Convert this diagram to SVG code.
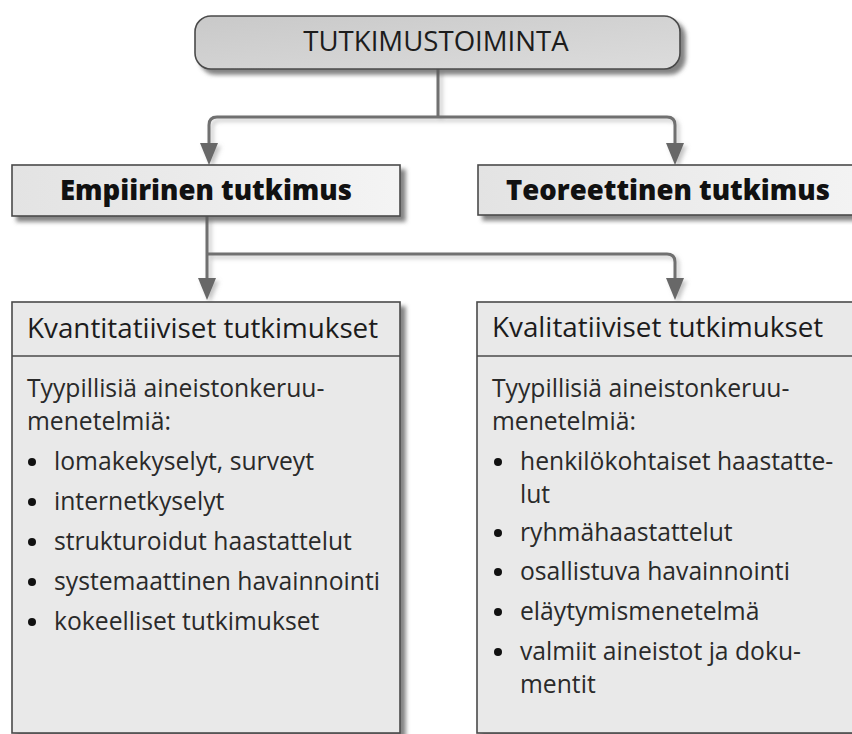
<svg xmlns="http://www.w3.org/2000/svg" width="852" height="734" viewBox="0 0 852 734">
<style>
.box{stroke:#4a4a4a;stroke-width:1.6}
.conn{fill:none;stroke:#6f6f6f;stroke-width:3}
.t{font-family:"Open Sans","Noto Sans",sans-serif;fill:#1c1c1c}
.top{font-size:27.6px;text-anchor:middle}
.mid{font-size:27.5px;font-weight:800;text-anchor:middle;fill:#111}
.hdr{font-size:27.8px}
.body{font-size:24.7px;fill:#2a2a2a}
</style>
<defs>
<filter id="sh" x="-5%" y="-10%" width="115%" height="130%">
<feDropShadow dx="5" dy="5" stdDeviation="2.2" flood-color="#5a5a5a" flood-opacity="0.75"/>
</filter>
<filter id="lsh" x="-50%" y="-50%" width="200%" height="200%">
<feDropShadow dx="3" dy="3" stdDeviation="2" flood-color="#888" flood-opacity="0.5"/>
</filter>
<linearGradient id="gTop" x1="0" y1="0" x2="1" y2="1">
<stop offset="0" stop-color="#c9c9c9"/><stop offset="1" stop-color="#dcdcdc"/>
</linearGradient>
<linearGradient id="gMid" x1="0" y1="0" x2="1" y2="0">
<stop offset="0" stop-color="#e3e3e3"/><stop offset="1" stop-color="#f4f4f4"/>
</linearGradient>
</defs>

<g id="connectors" filter="url(#lsh)">
<path class="conn" d="M438,69 V117"/>
<path class="conn" d="M438,117 H217 Q209,117 209,125 V145"/>
<path d="M200,143 L218,143 L209,165 Z" fill="#686868"/>
<path class="conn" d="M438,117 H667 Q675,117 675,125 V145"/>
<path d="M666,143 L684,143 L675,165 Z" fill="#686868"/>
<path class="conn" d="M207,216 V280"/>
<path d="M198,278 L216,278 L207,300 Z" fill="#686868"/>
<path class="conn" d="M207,254 H667 Q675,254 675,262 V280"/>
<path d="M666,278 L684,278 L675,300 Z" fill="#686868"/>
</g>

<g id="node-tutkimustoiminta">
<rect class="box" x="195" y="16" width="485" height="53" rx="16" fill="url(#gTop)" filter="url(#sh)"/>
<text class="t top" x="436" y="51">TUTKIMUSTOIMINTA</text>
</g>

<g id="node-empiirinen">
<rect class="box" x="12" y="165" width="388" height="51" fill="url(#gMid)" filter="url(#sh)"/>
<text class="t mid" x="206" y="200">Empiirinen tutkimus</text>
</g>

<g id="node-teoreettinen">
<rect class="box" x="478" y="165" width="400" height="50" fill="url(#gMid)" filter="url(#sh)"/>
<text class="t mid" x="668" y="200">Teoreettinen tutkimus</text>
</g>

<g id="node-kvantitatiiviset">
<rect class="box" x="12" y="302" width="388" height="431" fill="#e9e9e9" filter="url(#sh)"/>
<line class="box" x1="12" y1="356" x2="400" y2="356" stroke-width="2"/>
<text class="t hdr" x="27" y="338">Kvantitatiiviset tutkimukset</text>
<text class="t body" x="27" y="397">Tyypillisiä aineistonkeruu-</text>
<text class="t body" x="27" y="430">menetelmiä:</text>
<g class="t body">
<circle cx="32" cy="462" r="4" fill="#111"/><text x="54" y="470">lomakekyselyt, surveyt</text>
<circle cx="32" cy="502" r="4" fill="#111"/><text x="54" y="510">internetkyselyt</text>
<circle cx="32" cy="542" r="4" fill="#111"/><text x="54" y="550">strukturoidut haastattelut</text>
<circle cx="32" cy="582" r="4" fill="#111"/><text x="54" y="590">systemaattinen havainnointi</text>
<circle cx="32" cy="622" r="4" fill="#111"/><text x="54" y="630">kokeelliset tutkimukset</text>
</g>
</g>

<g id="node-kvalitatiiviset">
<rect class="box" x="477" y="302" width="400" height="431" fill="#e9e9e9" filter="url(#sh)"/>
<line class="box" x1="477" y1="356" x2="877" y2="356" stroke-width="2"/>
<text class="t hdr" x="492" y="337">Kvalitatiiviset tutkimukset</text>
<text class="t body" x="492" y="397">Tyypillisiä aineistonkeruu-</text>
<text class="t body" x="492" y="430">menetelmiä:</text>
<g class="t body">
<circle cx="498" cy="462" r="4" fill="#111"/><text x="520" y="470">henkilökohtaiset haastatte-</text>
<text x="520" y="503">lut</text>
<circle cx="498" cy="533" r="4" fill="#111"/><text x="520" y="541">ryhmähaastattelut</text>
<circle cx="498" cy="572" r="4" fill="#111"/><text x="520" y="580">osallistuva havainnointi</text>
<circle cx="498" cy="612" r="4" fill="#111"/><text x="520" y="620">eläytymismenetelmä</text>
<circle cx="498" cy="652" r="4" fill="#111"/><text x="520" y="660">valmiit aineistot ja doku-</text>
<text x="520" y="693">mentit</text>
</g>
</g>
</svg>
